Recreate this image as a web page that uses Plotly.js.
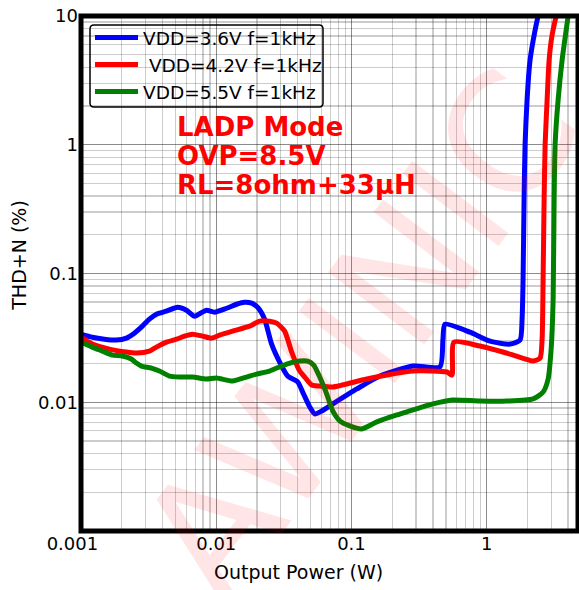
<!DOCTYPE html>
<html>
<head>
<meta charset="utf-8">
<script src="https://cdn.plot.ly/plotly-3.0.1.min.js"></script>
<style>html,body{margin:0;padding:0;background:#fff;overflow:hidden}</style>
</head>
<body>
<div id="chart" style="width:579px;height:590px"></div>
<script>
// ---- Data ----
var seriesNames = ['VDD=3.6V f=1kHz', '\u00a0VDD=4.2V f=1kHz', 'VDD=5.5V f=1kHz'];
var seriesColors = ['#0000ff', '#ff0000', '#008000'];

var p36 = [0.001, 0.001212, 0.001489, 0.001826, 0.002166, 0.002482, 0.002845, 0.003205, 0.003612, 0.004283,
  0.005167, 0.006026, 0.006908, 0.007652, 0.008475, 0.00971, 0.01192, 0.01414, 0.01621, 0.01826,
  0.02022, 0.02279, 0.02568, 0.02944, 0.03373, 0.04001, 0.04357, 0.04911, 0.05347, 0.06026,
  0.07268, 0.1095, 0.1621, 0.2845, 0.4509, 0.4746, 0.4911, 0.7522, 1.058, 1.488,
  1.765, 1.826, 1.857, 1.889, 1.921, 1.988, 2.093, 2.28, 2.399];
var t36 = [0.0338, 0.0320, 0.0309, 0.0304, 0.0315, 0.0344, 0.0390, 0.0442, 0.0483, 0.0510,
  0.0547, 0.0519, 0.0466, 0.0492, 0.0519, 0.0501, 0.0537, 0.0577, 0.0598, 0.0588,
  0.0547, 0.0442, 0.0283, 0.0205, 0.0160, 0.0144, 0.0120, 0.0092, 0.00812, 0.00856,
  0.0097, 0.01268, 0.0160, 0.0191, 0.0188, 0.0309, 0.0404, 0.0350, 0.0298, 0.0283,
  0.0304, 0.0442, 0.0902, 0.3756, 1.002, 2.235, 4.563, 7.79, 10.0];

var p42 = [0.001, 0.001212, 0.001621, 0.002166, 0.002568, 0.003205, 0.003612, 0.004283, 0.005079, 0.005824,
  0.006674, 0.007917, 0.009231, 0.01058, 0.0132, 0.01765, 0.02093, 0.02482, 0.02797, 0.03205,
  0.03612, 0.0414, 0.04509, 0.05079, 0.05824, 0.07268, 0.1298, 0.2845, 0.5081, 0.5534,
  0.5726, 0.892, 1.488, 2.203, 2.482, 2.568, 2.612, 2.657, 2.703, 2.797,
  2.894, 3.046, 3.262];
var t42 = [0.0320, 0.0283, 0.02587, 0.02453, 0.02409, 0.02497, 0.02682, 0.02932, 0.0309, 0.03263,
  0.0338, 0.03263, 0.03148, 0.0332, 0.03566, 0.0390, 0.04264, 0.04264, 0.04114, 0.03566,
  0.02453, 0.01748, 0.0157, 0.01361, 0.01337, 0.01314, 0.01516, 0.01748, 0.01717, 0.01627,
  0.02932, 0.02731, 0.02366, 0.02089, 0.02203, 0.0309, 0.0902, 0.3756, 1.002, 2.235,
  4.563, 7.126, 10.0];

var p55 = [0.001, 0.001212, 0.001438, 0.001706, 0.002022, 0.002359, 0.002568, 0.002797, 0.003317, 0.003802,
  0.004509, 0.005347, 0.006674, 0.008475, 0.01005, 0.0132, 0.01677, 0.01989, 0.02482, 0.03317,
  0.0414, 0.04746, 0.05256, 0.05824, 0.06482, 0.07268, 0.08189, 0.0971, 0.1192, 0.154,
  0.2166, 0.2704, 0.4002, 0.5562, 0.892, 1.414, 2.203, 2.612, 2.845, 2.995,
  3.098, 3.151, 3.205, 3.374, 3.612, 4.002];
var t55 = [0.02932, 0.02682, 0.02497, 0.02325, 0.02284, 0.02165, 0.02015, 0.0191, 0.01843, 0.01748,
  0.01598, 0.0157, 0.0157, 0.01516, 0.01543, 0.01462, 0.0157, 0.01656, 0.01748, 0.0198,
  0.02089, 0.02089, 0.01945, 0.0157, 0.0120, 0.00856, 0.00717, 0.00655, 0.00621, 0.00704,
  0.00797, 0.00856, 0.0097, 0.01042, 0.01023, 0.01023, 0.01061, 0.0120, 0.01516, 0.02587,
  0.0631, 0.3756, 1.002, 2.235, 4.563, 10.0];

var xTickVals = [0.001, 0.01, 0.1, 1];
var xTickText = ['0.001\u00a0\u00a0\u00a0', '0.01', '0.1', '1'];
var yTickVals = [0.01, 0.1, 1, 10];
var yTickText = ['0.01', '0.1', '1', '10'];
var infoLines = ['LADP Mode', 'OVP=8.5V', 'RL=8ohm+33\u03bcH'];
var xTitle = 'Output Power (W)';
var yTitle = 'THD+N (%)';
var watermark = 'AWINIC';

// ---- minor grid positions (2..9 per decade) ----
function minors(lo, hi) {
  var out = [];
  for (var e = lo; e < hi; e++) {
    for (var m = 2; m <= 9; m++) out.push(m * Math.pow(10, e));
  }
  return out;
}

var xs = [p36, p42, p55], ys = [t36, t42, t55];
var traces = xs.map(function (x, i) {
  return {
    x: x, y: ys[i], type: 'scatter', mode: 'lines', name: seriesNames[i],
    line: {color: seriesColors[i], width: 5, shape: 'spline', smoothing: 0.6},
    hoverinfo: 'skip'
  };
});

var FONT = 'DejaVu Sans, sans-serif';
var L = 81, R = 578, T = 16, B = 531.5;
function px(xp) { return (xp - L) / (R - L); }
function py(yp) { return 1 - (yp - T) / (B - T); }

var annotations = [];
var infoY = [127, 156, 185.5];
infoLines.forEach(function (s, i) {
  annotations.push({
    xref: 'paper', yref: 'paper', x: px(175), y: py(infoY[i]), xanchor: 'left', yanchor: 'middle',
    text: '<b>' + s + '</b>', showarrow: false,
    font: {family: FONT, size: 26, color: '#ff0000'}
  });
});
annotations.push({
  xref: 'paper', yref: 'paper', x: px(298), y: py(573), xanchor: 'center', yanchor: 'middle',
  text: xTitle, showarrow: false, font: {family: FONT, size: 19, color: '#000'}
});
annotations.push({
  xref: 'paper', yref: 'paper', x: px(19), y: py(256), xanchor: 'center', yanchor: 'middle',
  text: yTitle, textangle: -90, showarrow: false, font: {family: FONT, size: 19, color: '#000'}
});
annotations.push({
  xref: 'paper', yref: 'paper', x: px(360), y: py(335), xanchor: 'center', yanchor: 'middle',
  text: watermark, textangle: -53, showarrow: false,
  font: {family: FONT, size: 165, color: 'rgba(255,0,0,0.1)'}
});

// rounded legend frame (paper coordinates)
function roundRect(x0p, y0p, x1p, y1p, r) {
  var x0 = px(x0p), x1 = px(x1p), yt = py(y0p), yb = py(y1p);
  var rx = r / (R - L), ry = r / (B - T);
  return 'M' + (x0 + rx) + ',' + yt + ' L' + (x1 - rx) + ',' + yt +
    ' Q' + x1 + ',' + yt + ' ' + x1 + ',' + (yt - ry) +
    ' L' + x1 + ',' + (yb + ry) + ' Q' + x1 + ',' + yb + ' ' + (x1 - rx) + ',' + yb +
    ' L' + (x0 + rx) + ',' + yb + ' Q' + x0 + ',' + yb + ' ' + x0 + ',' + (yb + ry) +
    ' L' + x0 + ',' + (yt - ry) + ' Q' + x0 + ',' + yt + ' ' + (x0 + rx) + ',' + yt + ' Z';
}

var gridMajor = 'rgba(0,0,0,0.45)';
var gridMinor = 'rgba(0,0,0,0.2)';

var layout = {
  width: 579, height: 590,
  margin: {l: L, r: 579 - R, t: T, b: 590 - B, pad: 0},
  paper_bgcolor: '#fff', plot_bgcolor: '#fff',
  font: {family: FONT, color: '#000'},
  showlegend: true,
  legend: {
    x: px(90), y: py(19), xanchor: 'left', yanchor: 'top',
    bgcolor: 'rgba(0,0,0,0)', borderwidth: 0, itemwidth: 43,
    font: {family: FONT, size: 18.5, color: '#000'}
  },
  xaxis: {
    type: 'log', range: [-3, 0.675], tickmode: 'array', tickvals: xTickVals, ticktext: xTickText,
    ticks: '', showline: false, zeroline: false,
    showgrid: true, gridcolor: gridMajor, gridwidth: 1.3,
    minor: {tickmode: 'array', tickvals: minors(-3, 1), showgrid: true, gridcolor: gridMinor, gridwidth: 1.3, ticks: ''},
    tickfont: {family: FONT, size: 18, color: '#000'}
  },
  yaxis: {
    type: 'log', range: [-3, 1], tickmode: 'array', tickvals: yTickVals, ticktext: yTickText,
    ticks: '', showline: false, zeroline: false, ticklabelstandoff: 2,
    showgrid: true, gridcolor: gridMajor, gridwidth: 1.3,
    minor: {tickmode: 'array', tickvals: minors(-3, 1), showgrid: true, gridcolor: gridMinor, gridwidth: 1.3, ticks: ''},
    tickfont: {family: FONT, size: 18, color: '#000'}
  },
  shapes: [
    {type: 'path', xref: 'paper', yref: 'paper', path: roundRect(90, 25, 323, 107, 4),
     fillcolor: '#fff', line: {color: '#000', width: 1.5}, layer: 'between'},
    {type: 'rect', xref: 'paper', yref: 'paper', x0: 0, x1: 1, y0: 0, y1: 1,
     line: {color: '#000', width: 5}, layer: 'above'}
  ],
  annotations: annotations
};

Plotly.newPlot('chart', traces, layout, {displayModeBar: false, staticPlot: true});
</script>
</body>
</html>
